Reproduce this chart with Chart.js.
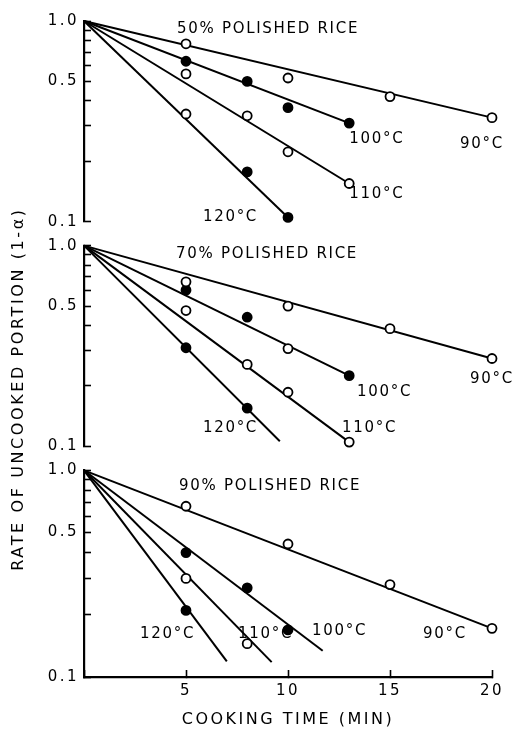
<!DOCTYPE html>
<html>
<head>
<meta charset="utf-8">
<script src="https://cdn.jsdelivr.net/npm/chart.js@4.4.1/dist/chart.umd.min.js"></script>
<style>
  html, body { margin: 0; padding: 0; background: #fff; }
  #wrap { width: 516px; height: 732px; position: relative; }
</style>
</head>
<body>
<div id="wrap"><canvas id="c" width="516" height="732"></canvas></div>
<script>
// ---------------- DATA ----------------
const TEMPS = ['90°C', '100°C', '110°C', '120°C'];
const Y_TICKS = [0.1, 0.2, 0.3, 0.4, 0.5, 0.6, 0.7, 0.8, 0.9, 1.0];
const Y_TICK_LABELS = ['1.0', '0.5', '0.1'];
const X_TICKS = [5, 10, 15, 20];

// 50% polished rice : cooking time (min) / rate of uncooked portion
const t50_90  = [5, 10, 15, 20];  const r50_90  = [0.77, 0.52, 0.42, 0.33];
const t50_100 = [5, 8, 10, 13];   const r50_100 = [0.63, 0.50, 0.37, 0.31];
const t50_110 = [5, 8, 10, 13];   const r50_110 = [0.545, 0.337, 0.223, 0.155];
const t50_120 = [5, 8, 10];       const r50_120 = [0.344, 0.177, 0.105];
// fitted lines (start at t=0, 1.0) end points, in TEMPS order
const fit50_t = [20, 13, 13, 10];
const fit50_r = [0.33, 0.31, 0.155, 0.105];

// 70% polished rice
const t70_90  = [5, 10, 15, 20];  const r70_90  = [0.66, 0.50, 0.386, 0.274];
const t70_100 = [5, 8, 10, 13];   const r70_100 = [0.60, 0.44, 0.307, 0.225];
const t70_110 = [5, 8, 10, 13];   const r70_110 = [0.475, 0.256, 0.186, 0.105];
const t70_120 = [5, 8];           const r70_120 = [0.31, 0.155];
const fit70_t = [20, 13, 13, 9.6];
const fit70_r = [0.274, 0.225, 0.105, 0.106];

// 90% polished rice
const t90_90  = [5, 10, 15, 20];  const r90_90  = [0.67, 0.44, 0.28, 0.172];
const t90_100 = [5, 8, 10];       const r90_100 = [0.40, 0.27, 0.169];
const t90_110 = [5, 8];           const r90_110 = [0.30, 0.145];
const t90_120 = [5];              const r90_120 = [0.21];
const fit90_t = [20, 11.7, 9.2, 7.0];
const fit90_r = [0.172, 0.134, 0.118, 0.119];

const FIT_START_T = 0;
const FIT_START_R = 1.0;

// marker kind (1 = filled dot, 0 = open circle) as printed
const m50 = [[0,0,0,0], [1,1,1,1], [0,0,0,0], [0,1,1]];
const m70 = [[0,0,0,0], [1,1,0,1], [0,0,0,0], [1,1]];
const m90 = [[0,0,0,0], [1,1,1],   [0,0],     [1]];

// text labels anchored in data space (minutes, rate)
const lab50 = [
  ['50% POLISHED RICE', 4.56, 0.872],
  ['100°C', 13.0, 0.247], ['90°C', 18.43, 0.233],
  ['110°C', 13.0, 0.1316], ['120°C', 5.83, 0.101]
];
const lab70 = [
  ['70% POLISHED RICE', 4.51, 0.872],
  ['90°C', 18.92, 0.206], ['100°C', 13.38, 0.179],
  ['110°C', 12.65, 0.1175], ['120°C', 5.83, 0.1175]
];
const lab90 = [
  ['90% POLISHED RICE', 4.66, 0.80],
  ['120°C', 2.75, 0.154], ['110°C', 7.55, 0.154],
  ['100°C', 11.18, 0.1596], ['90°C', 16.62, 0.154]
];

const X_TITLE = 'COOKING TIME (MIN)';
const Y_TITLE = 'RATE OF UNCOOKED PORTION (1-α)';

// ---------------- BUILD ----------------
const FONT = 'DejaVu Sans';
const PANELS = [
  { axis: 'y50', t: [t50_90, t50_100, t50_110, t50_120], r: [r50_90, r50_100, r50_110, r50_120], m: m50, ft: fit50_t, fr: fit50_r, lab: lab50 },
  { axis: 'y70', t: [t70_90, t70_100, t70_110, t70_120], r: [r70_90, r70_100, r70_110, r70_120], m: m70, ft: fit70_t, fr: fit70_r, lab: lab70 },
  { axis: 'y90', t: [t90_90, t90_100, t90_110, t90_120], r: [r90_90, r90_100, r90_110, r90_120], m: m90, ft: fit90_t, fr: fit90_r, lab: lab90 }
];

const datasets = [];
PANELS.forEach(p => {
  TEMPS.forEach((temp, k) => {
    datasets.push({
      label: p.axis + ' fit ' + temp,
      data: [{x: FIT_START_T, y: FIT_START_R}, {x: p.ft[k], y: p.fr[k]}],
      yAxisID: p.axis, xAxisID: 'x',
      showLine: true, borderColor: '#000', borderWidth: 2,
      pointRadius: 0, pointHoverRadius: 0, order: 2, clip: false
    });
    datasets.push({
      label: p.axis + ' ' + temp,
      data: p.t[k].map((t, i) => ({x: t, y: p.r[k][i]})),
      yAxisID: p.axis, xAxisID: 'x',
      showLine: false,
      pointRadius: 4.5, pointHoverRadius: 4.5, pointBorderWidth: 1.8,
      pointBorderColor: '#000',
      pointBackgroundColor: p.m[k].map(f => f ? '#000' : '#fff'),
      order: 1, clip: false
    });
  });
});

function yAxis(weight, stackWeight) {
  return {
    type: 'logarithmic', position: 'left', stack: 'v', stackWeight: stackWeight, weight: weight,
    min: 0.1, max: 1.0,
    border: { display: true, color: '#000', width: 2.2 },
    grid: { drawOnChartArea: false, drawTicks: true, tickLength: -7, tickWidth: 1.6, tickColor: '#000' },
    afterBuildTicks: (s) => { s.ticks = Y_TICKS.map(v => ({ value: v })); },
    ticks: {
      autoSkip: false, padding: 12, color: '#000', font: { family: FONT, size: 15 },
      callback: (v) => {
        const s = Number(v).toFixed(1);
        return Y_TICK_LABELS.includes(s) && [1, 0.5, 0.1].some(t => Math.abs(t - v) < 1e-9) ? s : '';
      }
    },
    afterFit: (s) => { s.width = 84; }
  };
}
function spacer(weight, stackWeight) {
  return { type: 'linear', position: 'left', stack: 'v', stackWeight: stackWeight, weight: weight, display: false };
}

const labelPlugin = {
  id: 'labels',
  beforeDraw(chart) { chart.ctx.letterSpacing = '2.5px'; },
  afterDatasetsDraw(chart) {
    const ctx = chart.ctx;
    ctx.save();
    ctx.fillStyle = '#000';
    ctx.font = '15px "' + FONT + '"';
    ctx.textAlign = 'left';
    ctx.textBaseline = 'alphabetic';
    ctx.letterSpacing = '1.7px';
    PANELS.forEach(p => {
      const ys = chart.scales[p.axis];
      p.lab.forEach(([txt, tx, ty]) => {
        ctx.fillText(txt, chart.scales.x.getPixelForValue(tx), ys.getPixelForValue(ty));
      });
    });
    ctx.restore();
  },
  afterDraw(chart) {
    const ctx = chart.ctx;
    ctx.save();
    ctx.fillStyle = '#000';
    ctx.font = '16px "' + FONT + '"';
    ctx.letterSpacing = '2.6px';
    ctx.textAlign = 'center';
    ctx.textBaseline = 'middle';
    ctx.translate(19, 389);
    ctx.rotate(-Math.PI / 2);
    ctx.fillText(Y_TITLE, 0, 0);
    ctx.restore();
  }
};

new Chart(document.getElementById('c'), {
  type: 'scatter',
  data: { datasets },
  options: {
    responsive: false,
    animation: false,
    events: [],
    layout: { padding: { top: 20, right: 24, bottom: 0, left: 0 } },
    plugins: { legend: { display: false }, tooltip: { enabled: false }, title: { display: false } },
    scales: {
      x: {
        type: 'linear', position: 'bottom', min: 0, max: 20,
        border: { display: true, color: '#000', width: 2.2 },
        grid: { drawOnChartArea: false, drawTicks: true, tickLength: -7, tickWidth: 1.6, tickColor: '#000' },
        afterBuildTicks: (s) => { s.ticks = [0].concat(X_TICKS).map(v => ({ value: v })); },
        ticks: {
          padding: 12, color: '#000', font: { family: FONT, size: 15 }, maxRotation: 0, autoSkip: false,
          callback: (v) => X_TICKS.includes(v) ? String(v) : ''
        },
        title: { display: true, text: X_TITLE, color: '#000', font: { family: FONT, size: 16 }, padding: { top: 4, bottom: 3 } },
        afterFit: (s) => { s.height = 55; }
      },
      y50: yAxis(5, 201),
      gapA: spacer(4, 24),
      y70: yAxis(3, 201),
      gapB: spacer(2, 24),
      y90: yAxis(1, 207)
    }
  },
  plugins: [labelPlugin]
});
</script>
</body>
</html>
